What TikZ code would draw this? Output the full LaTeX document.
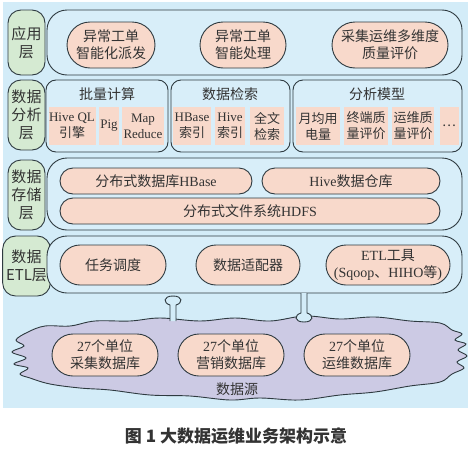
\documentclass[tikz,border=0pt]{standalone}
\usepackage{fontspec}
\setmainfont{Liberation Serif}
\newfontfamily\cjk{Noto Sans CJK SC}
\usetikzlibrary{shapes.misc}
\definecolor{bgblue}{HTML}{D3ECF8}
\definecolor{boxblue}{HTML}{D8EEF9}
\definecolor{lgreen}{HTML}{D5EAD2}
\definecolor{pink}{HTML}{F8D9CB}
\definecolor{cloudc}{HTML}{CCCAE4}
\definecolor{edge}{HTML}{2E3A40}
\definecolor{txt}{HTML}{333333}
\newcommand\zh[1]{{\cjk #1}}
\tikzset{
  lbl/.style={draw=edge, fill=lgreen, rounded corners=13pt, line width=0.9pt, text=txt, align=center, font=\fontsize{15}{18}\selectfont\cjk},
  frame/.style={draw=edge, fill=boxblue, line width=0.9pt},
  pill/.style={draw=edge, fill=pink, rounded rectangle, line width=0.9pt, text=txt, align=center, inner sep=0pt, font=\fontsize{14}{17}\selectfont},
  bar/.style={draw=edge, fill=pink, rounded rectangle, line width=0.9pt, text=txt, align=center, inner sep=0pt, font=\fontsize{14}{17}\selectfont},
  cell/.style={fill=pink, text=txt, align=center, inner sep=0pt, font=\fontsize{13}{16}\selectfont},
  ttl/.style={text=txt, font=\fontsize{14}{17}\selectfont\cjk},
  pipe/.style={draw=edge, fill=bgblue, line width=0.9pt},
}
\begin{document}
\begin{tikzpicture}[x=1pt,y=-1pt]
\useasboundingbox (0,0) rectangle (471,450);
\fill[bgblue] (3,2) rectangle (468,408);

% cloud (data source)
\draw[draw=edge, fill=cloudc, line width=0.9pt] plot[smooth cycle, tension=0.6] coordinates {
 (28,332) (45,326) (70,326) (95,321) (130,321) (160,318) (200,321) (235,318) (270,321)
 (305,316) (340,319) (375,317) (410,321) (440,323) (452,330)
 (462,334) (455,340) (466,344) (458,350) (467,356) (457,362) (464,368) (452,374)
 (440,382) (410,386) (375,392) (340,395) (300,400) (260,398) (230,400) (190,396)
 (150,395) (110,390) (80,388) (50,384) (30,378)
 (20,374) (28,368) (14,364) (26,358) (12,352) (24,346) (16,340)};
\coordinate (src) at (238,360);
\node[text=txt, font=\fontsize{14}{17}\selectfont\cjk] (srclbl) at (237,389) {数据源};
\node[pill, minimum width=106pt, minimum height=42pt] (db1) at (105,355) {27\zh{个单位}\\\zh{采集数据库}};
\node[pill, minimum width=106pt, minimum height=42pt] (db2) at (231,355) {27\zh{个单位}\\\zh{营销数据库}};
\node[pill, minimum width=106pt, minimum height=42pt] (db3) at (357,355) {27\zh{个单位}\\\zh{运维数据库}};

% application layer
\node[lbl, minimum width=37pt, minimum height=65pt] (l1) at (26.5,42.5) {应用\\层};
\draw[frame, rounded corners=20pt] (47,10) rectangle (462,75);
\node[pill, minimum width=88pt, minimum height=46pt] (a1) at (111,45) {\zh{异常工单}\\\zh{智能化派发}};
\node[pill, minimum width=86pt, minimum height=46pt] (a2) at (243,45) {\zh{异常工单}\\\zh{智能处理}};
\node[pill, minimum width=116pt, minimum height=46pt] (a3) at (390,45) {\zh{采集运维多维度}\\\zh{质量评价}};

% analysis layer
\node[lbl, minimum width=37pt, minimum height=70pt] (l2) at (26.5,115) {数据\\分析\\层};
\draw[frame, rounded corners=10pt] (46,80) rectangle (168,152);
\draw[frame, rounded corners=10pt] (171,80) rectangle (290,152);
\draw[frame, rounded corners=10pt] (293,80) rectangle (462,152);
\node[ttl] (t1) at (107,94) {批量计算};
\node[ttl] (t2) at (230,94) {数据检索};
\node[ttl] (t3) at (377,94) {分析模型};
\node[cell, minimum width=47pt, minimum height=38pt] (c1) at (72,126) {Hive QL\\\zh{引擎}};
\node[cell, minimum width=20pt, minimum height=38pt] (c2) at (109,126) {Pig};
\node[cell, minimum width=42pt, minimum height=38pt] (c3) at (143,126) {Map\\Reduce};
\node[cell, minimum width=38pt, minimum height=38pt] (c4) at (192,126) {HBase\\\zh{索引}};
\node[cell, minimum width=30pt, minimum height=38pt] (c5) at (230,126) {Hive\\\zh{索引}};
\node[cell, minimum width=34pt, minimum height=38pt] (c6) at (267,126) {\zh{全文}\\\zh{检索}};
\node[cell, minimum width=44pt, minimum height=38pt] (c7) at (318,126) {\zh{月均用}\\\zh{电量}};
\node[cell, minimum width=44pt, minimum height=38pt] (c8) at (366,126) {\zh{终端质}\\\zh{量评价}};
\node[cell, minimum width=42pt, minimum height=38pt] (c9) at (413,126) {\zh{运维质}\\\zh{量评价}};
\node[cell, minimum width=19pt, minimum height=38pt] (c10) at (449,126) {\zh{…}};

% storage layer
\node[lbl, minimum width=37pt, minimum height=70pt] (l3) at (26.5,195) {数据\\存储\\层};
\draw[frame, rounded corners=20pt] (47,158) rectangle (462,230);
\node[bar, minimum width=192pt, minimum height=26pt] (s1) at (156,181) {\zh{分布式数据库}HBase};
\node[bar, minimum width=178pt, minimum height=26pt] (s2) at (351,181) {Hive\zh{数据仓库}};
\node[bar, minimum width=380pt, minimum height=26pt] (s3) at (250,211) {\zh{分布式文件系统}HDFS};

% ETL layer
\node[lbl, minimum width=37pt, minimum height=60pt] (l4) at (26.5,266) {数据\\ETL层};
\draw[frame, rounded corners=20pt] (47,236) rectangle (462,293);
\node[pill, minimum width=106pt, minimum height=40pt] (e1) at (113,265) {\zh{任务调度}};
\node[pill, minimum width=104pt, minimum height=40pt] (e2) at (248,265) {\zh{数据适配器}};
\node[pill, minimum width=124pt, minimum height=40pt] (e3) at (388,265) {ETL\zh{工具}\\(Sqoop\zh{、}HIHO\zh{等})};

% pipes between ETL layer and data source
\coordinate (p1top) at (173,296);
\coordinate (p1bot) at (173,321);
\coordinate (p2top) at (304,293);
\coordinate (p2bot) at (304,322);
\draw[pipe] ([xshift=-3pt]p1bot) -- ([xshift=-3pt,yshift=-9pt]p1top)
  .. controls ([xshift=-10pt,yshift=-7pt]p1top) and ([xshift=-10pt]p1top) .. (p1top)
  .. controls ([xshift=10pt]p1top) and ([xshift=10pt,yshift=-7pt]p1top) .. ([xshift=3pt,yshift=-9pt]p1top)
  -- ([xshift=3pt]p1bot);
\draw[pipe] ([xshift=-3pt]p2top) -- ([xshift=-3pt,yshift=9pt]p2bot)
  .. controls ([xshift=-10pt,yshift=7pt]p2bot) and ([xshift=-10pt]p2bot) .. (p2bot)
  .. controls ([xshift=10pt]p2bot) and ([xshift=10pt,yshift=7pt]p2bot) .. ([xshift=3pt,yshift=9pt]p2bot)
  -- ([xshift=3pt]p2top);

% caption
\node[text=txt, font=\fontsize{17}{20}\selectfont\cjk\bfseries] (cap) at (236,436) {图 1 大数据运维业务架构示意};
\end{tikzpicture}
\end{document}
